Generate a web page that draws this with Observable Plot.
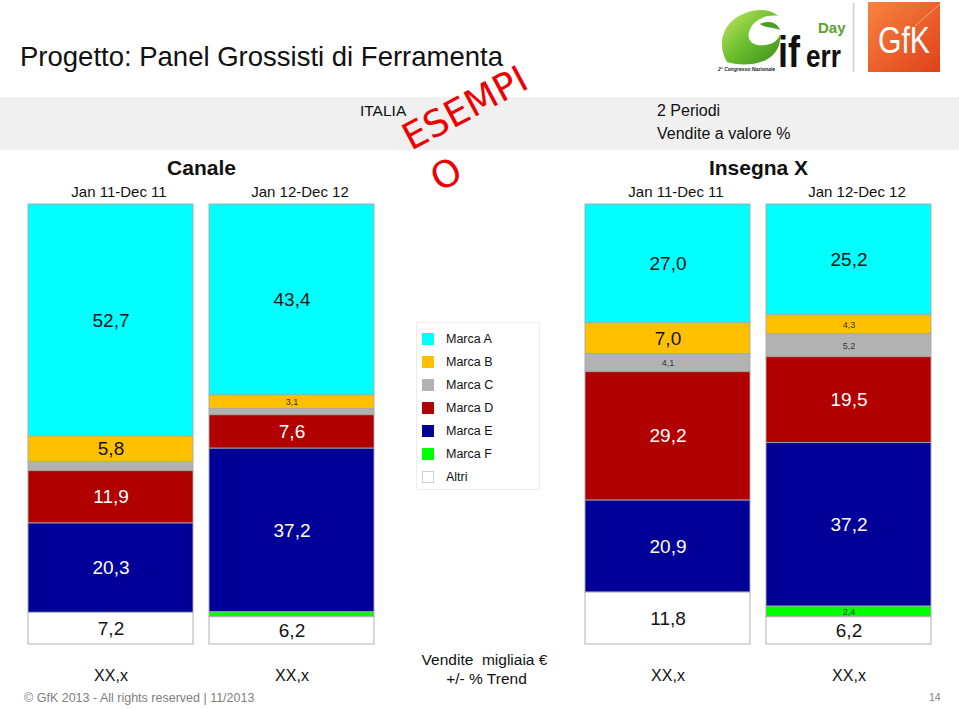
<!DOCTYPE html>
<html>
<head>
<meta charset="utf-8">
<script src="https://cdn.jsdelivr.net/npm/d3@7"></script>
<script src="https://cdn.jsdelivr.net/npm/@observablehq/plot@0.6"></script>
<style>
  body { margin: 0; background: #fff; }
  #page { position: relative; width: 959px; height: 709px; overflow: hidden; background: #fff;
          font-family: "Liberation Sans", Arial, sans-serif; color: #111; }
  .abs { position: absolute; white-space: nowrap; line-height: 1.15; }
  .c { transform: translate(-50%, -50%); }
  .l { transform: translateY(-50%); }
  #plot { position: absolute; left: 0; top: 150px; }
  #legend { position: absolute; left: 416px; top: 322px; width: 124px; height: 168px;
            border: 1px solid #ececec; box-sizing: border-box; }
  #legend .row { position: absolute; left: 0; height: 12px; width: 124px; }
  #legend .sw { position: absolute; left: 5px; top: 0; width: 12px; height: 12px; box-sizing: border-box; }
  #legend .tx { position: absolute; left: 29px; top: 6px; transform: translateY(-50%); font-size: 12.5px; line-height: 1.15; color: #111; }
  #overlay { position: absolute; left: 0; top: 0; pointer-events: none; }
</style>
</head>
<body>
<div id="page">
  <div class="abs l" style="left:20px; top:57px; font-size:27.5px;">Progetto: Panel Grossisti di Ferramenta</div>
  <div style="position:absolute; left:0; top:97px; width:959px; height:53px; background:#f0f0f0;"></div>
  <div class="abs l" style="left:360px; top:111px; font-size:15.5px;">ITALIA</div>
  <div class="abs l" style="left:657px; top:111px; font-size:16px;">2 Periodi</div>
  <div class="abs l" style="left:657px; top:134px; font-size:16px;">Vendite a valore %</div>
  <div id="plot"></div>
  <div id="legend"></div>
  <div class="abs c" style="left:484.5px; top:660px; font-size:15.5px;">Vendite&nbsp; migliaia €</div>
  <div class="abs c" style="left:486.5px; top:679px; font-size:15.5px;">+/- % Trend</div>
  <div class="abs l" style="left:24px; top:698px; font-size:12.5px; color:#808080;">© GfK 2013 - All rights reserved | 11/2013</div>
  <div class="abs l" style="left:929px; top:697px; font-size:10.5px; color:#808080;">14</div>
  <svg id="overlay" width="959" height="709" viewBox="0 0 959 709">
    <defs>
      <linearGradient id="gfk" x1="0" y1="0" x2="1" y2="1">
        <stop offset="0" stop-color="#f7843f"/>
        <stop offset="1" stop-color="#e0401b"/>
      </linearGradient>
      <linearGradient id="leaf" x1="0" y1="0" x2="1" y2="1">
        <stop offset="0" stop-color="#c9e86a"/>
        <stop offset="0.5" stop-color="#6cbf2c"/>
        <stop offset="1" stop-color="#3d8f1c"/>
      </linearGradient>
    </defs>
    <!-- iferr Day logo -->
    <path d="M 727 62 C 716 44, 722 18, 752 11 C 764 8, 774 12, 778 16 C 766 14, 752 20, 749 32 C 746 42, 756 48, 770 44 C 776 42, 779 38, 780 34 C 782 50, 770 62, 752 64 C 742 65, 733 64, 727 62 Z" fill="url(#leaf)"/>
    <path d="M 760 24 C 768 20, 777 22, 780 30 C 772 27, 765 28, 760 24 Z" fill="#4f9d25"/>
    <text x="778" y="67" font-family="Liberation Sans Narrow, Liberation Sans, Arial" font-weight="bold" font-size="44" fill="#111" textLength="22" lengthAdjust="spacingAndGlyphs">if</text>
    <text x="806" y="67" font-family="Liberation Sans Narrow, Liberation Sans, Arial" font-weight="bold" font-size="32" fill="#111" textLength="35" lengthAdjust="spacingAndGlyphs">err</text>
    <text x="818" y="33" font-family="Liberation Sans, Arial" font-weight="bold" font-size="15" fill="#5aa12e">Day</text>
    <text x="718" y="71" font-family="Liberation Sans, Arial" font-style="italic" font-weight="bold" font-size="5" fill="#222">2° Congresso Nazionale</text>
    <line x1="853.5" y1="3" x2="853.5" y2="72" stroke="#cfcfcf" stroke-width="1.5"/>
    <!-- GfK logo -->
    <rect x="868" y="2" width="72" height="70" fill="url(#gfk)"/>
    <line x1="915" y1="26" x2="940" y2="4" stroke="#ffd2b0" stroke-width="0.8" opacity="0.8"/>
    <text x="904" y="53" text-anchor="middle" font-family="Liberation Sans Narrow, Liberation Sans, Arial" font-size="36" fill="#fff" textLength="52" lengthAdjust="spacingAndGlyphs">GfK</text>
    <!-- watermark -->
    <text x="411" y="151" transform="rotate(-28 411 151)" font-family="DejaVu Sans, Open Sans, sans-serif" font-size="37" fill="#ee0000">ESEMPI</text>
    <text x="446" y="187" text-anchor="middle" transform="rotate(-28 446 174)" font-family="DejaVu Sans, Open Sans, sans-serif" font-size="37" fill="#ee0000">O</text>
  </svg>
</div>
<script>
// ---- data ----
const brands = ["Marca A", "Marca B", "Marca C", "Marca D", "Marca E", "Marca F", "Altri"];
const brandColors = ["#00ffff", "#ffc000", "#b2b2b2", "#b00000", "#000099", "#00ff00", "#ffffff"];
const groups = ["Canale", "Insegna X"];
const periods = ["Jan 11-Dec 11", "Jan 12-Dec 12"];
// shares (%) per brand, in the order of `brands`
const canale2011 = [52.7, 5.8, 2.1, 11.9, 20.3, 0, 7.2];
const canale2012 = [43.4, 3.1, 1.4, 7.6, 37.2, 1.1, 6.2];
const insegna2011 = [27.0, 7.0, 4.1, 29.2, 20.9, 0, 11.8];
const insegna2012 = [25.2, 4.3, 5.2, 19.5, 37.2, 2.4, 6.2];
const trendLabels = ["XX,x", "XX,x", "XX,x", "XX,x"];

// ---- build table ----
const barDefs = [
  {group: groups[0], period: periods[0], values: canale2011},
  {group: groups[0], period: periods[1], values: canale2012},
  {group: groups[1], period: periods[0], values: insegna2011},
  {group: groups[1], period: periods[1], values: insegna2012}
];
const rows = [];
barDefs.forEach(b => brands.forEach((br, i) => {
  if (b.values[i] > 0) rows.push({group: b.group, period: b.period, brand: br, value: b.values[i]});
}));
const trendRows = barDefs.map((b, i) => ({group: b.group, period: b.period, trend: trendLabels[i]}));
const stackOrder = brands.slice().reverse(); // Altri at the bottom, Marca A on top

const fmt = v => v.toFixed(1).replace(".", ",");
const whiteText = new Set(["Marca D", "Marca E"]);
const MIN_LABEL = 2.2, SMALL_BELOW = 5.5;
const bigDark = d => (d.value >= SMALL_BELOW && !whiteText.has(d.brand)) ? fmt(d.value) : "";
const bigWhite = d => (d.value >= SMALL_BELOW && whiteText.has(d.brand)) ? fmt(d.value) : "";
const small = d => (d.value >= MIN_LABEL && d.value < SMALL_BELOW) ? fmt(d.value) : "";

const FONT = '"Liberation Sans", Arial, sans-serif';
const base = {fx: "group", x: "period", y: "value", z: "brand", order: stackOrder};

const chart = Plot.plot({
  width: 959,
  height: 500,
  marginTop: 54,
  marginBottom: 6,
  marginLeft: 27,
  marginRight: 27,
  style: {background: "transparent", fontFamily: FONT, overflow: "visible"},
  fx: {domain: groups, paddingInner: 0.378, paddingOuter: 0},
  x: {domain: periods, paddingInner: 0.09, paddingOuter: 0},
  y: {domain: [0, 100], axis: null},
  color: {domain: brands, range: brandColors},
  marks: [
    Plot.barY(rows, Plot.stackY({...base, fill: "brand", stroke: "#a8a8a8", strokeWidth: 0.9})),
    Plot.text(rows, Plot.stackY({...base, text: bigDark, fontSize: 19, fill: "#141414"})),
    Plot.text(rows, Plot.stackY({...base, text: bigWhite, fontSize: 19, fill: "#ffffff"})),
    Plot.text(rows, Plot.stackY({...base, text: small, fontSize: 9, fill: "#333"})),
    Plot.text(trendRows, {fx: "group", x: "period", text: "trend", frameAnchor: "bottom", dy: 36, fontSize: 16, fill: "#111"}),
    Plot.axisX({anchor: "top", tickSize: 0, tickPadding: 8, fontSize: 15, dx: 8, label: null, fill: "#111"}),
    Plot.axisFx({anchor: "top", tickSize: 0, tickPadding: 30, fontSize: 21, fontWeight: "bold", label: null, fill: "#111"})
  ]
});
document.getElementById("plot").appendChild(chart);

// ---- legend ----
const legend = document.getElementById("legend");
brands.forEach((b, i) => {
  const row = document.createElement("div");
  row.className = "row";
  row.style.top = (10 + i * 23) + "px";
  const sw = document.createElement("div");
  sw.className = "sw";
  sw.style.background = brandColors[i];
  if (brandColors[i] === "#ffffff") sw.style.border = "1px solid #cfcfcf";
  const tx = document.createElement("div");
  tx.className = "tx";
  tx.textContent = b;
  row.appendChild(sw);
  row.appendChild(tx);
  legend.appendChild(row);
});
</script>
</body>
</html>
